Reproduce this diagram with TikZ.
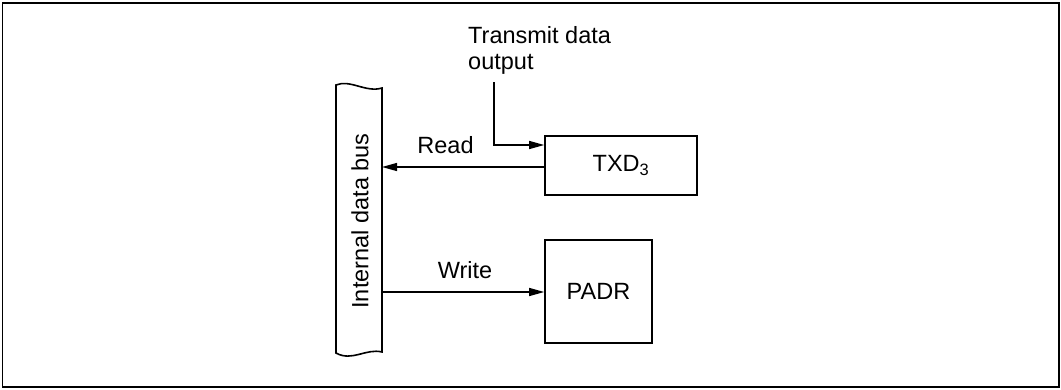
\documentclass[tikz,border=0pt]{standalone}
\usepackage{fontspec}
\setmainfont{Liberation Sans}
\usetikzlibrary{arrows.meta}
\begin{document}
\begin{tikzpicture}[x=1pt,y=-1pt,
  every node/.style={font=\fontsize{23.5}{26}\selectfont},
  boxst/.style={draw,line width=1.6pt,inner sep=0pt},
  conn/.style={line width=1.4pt,-{Triangle[length=15pt,width=8pt]}},
  lbl/.style={inner sep=0pt,anchor=base}]
\useasboundingbox (0,0) rectangle (1061,389);
\draw[line width=1.8pt] (2.5,3) rectangle (1059,387);
% bus
\draw[line width=1.6pt] (336,85) .. controls (350,79) and (366,93) .. (382,88)
  -- (382,352) .. controls (366,348) and (352,362) .. (336,353) -- cycle;
\node[rotate=90,inner sep=0pt] (bus) at (360,221) {Internal data bus};
\coordinate (busR1) at (382,167);
\coordinate (busR2) at (382,292);
% boxes
\node[boxst,minimum width=152pt,minimum height=59pt] (txd) at (621,165.5) {TXD\textsubscript{3}};
\node[boxst,minimum width=107pt,minimum height=103pt] (padr) at (598.5,291.5) {PADR};
% transmit text
\node[inner sep=0pt,anchor=north west,align=left] (tdo) at (468,26) {Transmit data\\output};
\coordinate (tdoEnd) at (494,82);
\draw[conn] (tdoEnd) |- (txd.west |- 0,145);
% read / write
\draw[conn] (txd.west |- busR1) -- (busR1);
\draw[conn] (busR2) -- (padr.west |- busR2);
\node[lbl] (rd) at (445.5,153) {Read};
\node[lbl] (wr) at (465,278) {Write};
\end{tikzpicture}
\end{document}
